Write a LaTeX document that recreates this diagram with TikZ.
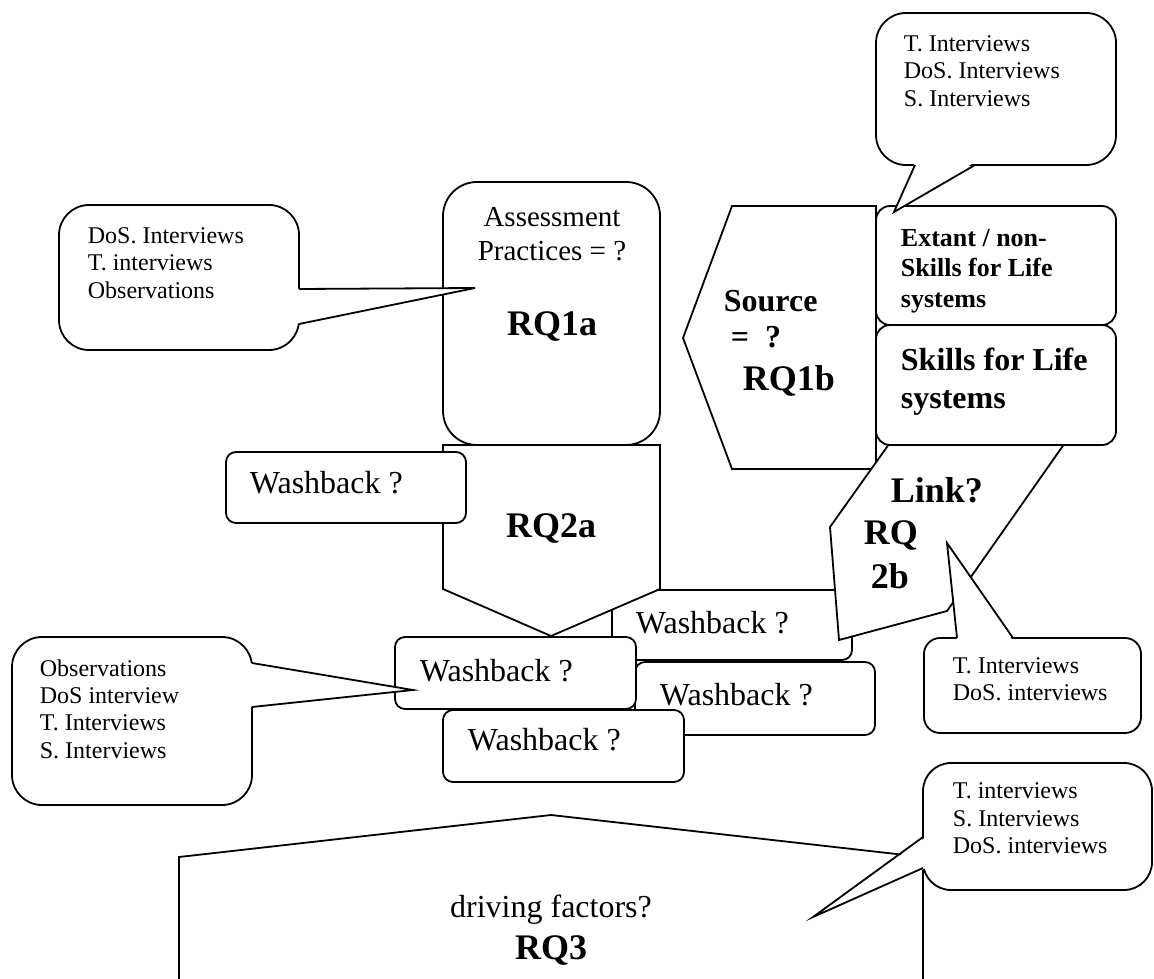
\documentclass[tikz,border=0pt]{standalone}
\usepackage{fontspec}
\setmainfont{Liberation Serif}
\usepackage{tikz}
\tikzset{
	box/.style={draw,fill=white},
	bubtxt/.style={anchor=north west,inner sep=0pt,align=left,font=\fontsize{12}{13.6}\selectfont},
	wbtxt/.style={anchor=base west,inner sep=0pt,font=\fontsize{16}{19}\selectfont},
	rqtxt/.style={inner sep=0pt,font=\fontsize{18}{21}\selectfont\bfseries},
	bldtxt/.style={anchor=base west,inner sep=0pt,font=\fontsize{16}{19}\selectfont\bfseries}
}
% wedge of a speech bubble: fill base, line base, tip, line base, fill base
\def\calltail#1#2#3#4#5{
	\fill[white] #1 -- #3 -- #5 -- cycle;
	\draw #2 -- #3 -- #4;}

\begin{document}
\begin{tikzpicture}[x=0.5pt,y=-0.5pt,line width=0.9pt]
	\useasboundingbox (0,0) rectangle (1154,978);
	% RQ3
	\draw[box] (179,1000)--(179,857)--(551,815)--(923,857)--(923,1000)--cycle;
	\node[anchor=base,inner sep=0pt,font=\fontsize{16}{19}\selectfont] (driving) at (551,917) {driving factors?};
	\node[rqtxt,anchor=base] (rqthree) at (551,959) {RQ3};
	% washback behind RQ2a
	\draw[box,rounded corners=5pt] (612,590) rectangle (852,660);
	\node[wbtxt] (wbb) at (635,633) {Washback ?};
	% RQ2a
	\draw[box] (443,445)--(660,445)--(660,589)--(551,636)--(443,589)--cycle;
	\node[rqtxt,anchor=base] (rqtwoa) at (551,537) {RQ2a};
	% RQ1a
	\draw[box,rounded corners=17pt] (443,182) rectangle (660,445);
	\node[anchor=north,inner sep=0pt,align=center,font=\fontsize{14.5}{17}\selectfont] (assess) at (552,206) {Assessment\\Practices = ?};
	\node[rqtxt,anchor=base] (rqonea) at (552,335) {RQ1a};
	\draw[box,rounded corners=5pt] (226,452) rectangle (466,523);
	\node[wbtxt] (wba) at (249,493) {Washback ?};
	% RQ1b
	\draw[box] (732,206)--(876,206)--(876,469)--(732,469)--(683,338)--cycle;
	\node[bldtxt] (source) at (723,312) {Source};
	\node[bldtxt] (sourceq) at (730,347) {=\ \ ?};
	\node[rqtxt,anchor=base west] (rqoneb) at (742,390) {RQ1b};
	% RQ2b
	\draw[box] (899,430)--(1074,430)--(947,611)--(839,640)--(830,527)--cycle;
	\node[rqtxt,anchor=base west] (link) at (890,502) {Link?};
	\node[rqtxt,anchor=base west] (rqtwob) at (863,544) {RQ};
	\node[rqtxt,anchor=base west] (rqtwobb) at (870,588) {2b};
	% systems
	\draw[box,rounded corners=7pt] (876,206) rectangle (1116,325);
	\node[anchor=north west,inner sep=0pt,align=left,font=\fontsize{13}{15.25}\selectfont\bfseries] (extant) at (900,228) {Extant / non-\\Skills for Life\\systems};
	\draw[box,rounded corners=7pt] (876,325) rectangle (1116,445);
	\node[anchor=north west,inner sep=0pt,align=left,font=\fontsize{16}{19}\selectfont\bfseries] (sfl) at (900,347) {Skills for Life\\systems};
	% bubbles
	\draw[box,rounded corners=15pt] (876,13) rectangle (1116,165);
	\calltail{(915,162)}{(915,165)}{(894,212)}{(975,165)}{(975,162)}
	\node[bubtxt] (bubsys) at (903,35) {T. Interviews\\DoS. Interviews\\S. Interviews};
	\draw[box,rounded corners=8pt] (924,638) rectangle (1141,733);
	\calltail{(957,641)}{(957,638)}{(947,543)}{(1013,638)}{(1013,641)}
	\node[bubtxt] (bublink) at (952,657) {T. Interviews\\DoS. interviews};
	% washback
	\draw[box,rounded corners=5pt] (635,662) rectangle (875,735);
	\node[wbtxt] (wbc) at (659,705) {Washback ?};
	\draw[box,rounded corners=5pt] (395,637) rectangle (636,709);
	\node[wbtxt] (wbd) at (419,681) {Washback ?};
	\draw[box,rounded corners=5pt] (443,710) rectangle (684,782);
	\node[wbtxt] (wbe) at (467,750) {Washback ?};
	\draw[box,rounded corners=15pt] (12,637) rectangle (252,805);
	\calltail{(249,663)}{(252,663)}{(413,690)}{(252,707)}{(249,707)}
	\node[bubtxt] (bubwash) at (39,659) {Observations\\DoS interview\\T. Interviews\\S. Interviews};
	\draw[box,rounded corners=15pt] (59,205) rectangle (299,350);
	\calltail{(296,289)}{(299,289)}{(475,288)}{(299,324)}{(296,324)}
	\node[bubtxt] (bubassess) at (87,227) {DoS. Interviews\\T. interviews\\Observations};
	\draw[box,rounded corners=14pt] (923,763) rectangle (1152,890);
	\calltail{(926,837)}{(923,837)}{(813,917)}{(923,868)}{(926,868)}
	\node[bubtxt] (bubdrive) at (952,782) {T. interviews\\S. Interviews\\DoS. interviews};
\end{tikzpicture}
\end{document}
